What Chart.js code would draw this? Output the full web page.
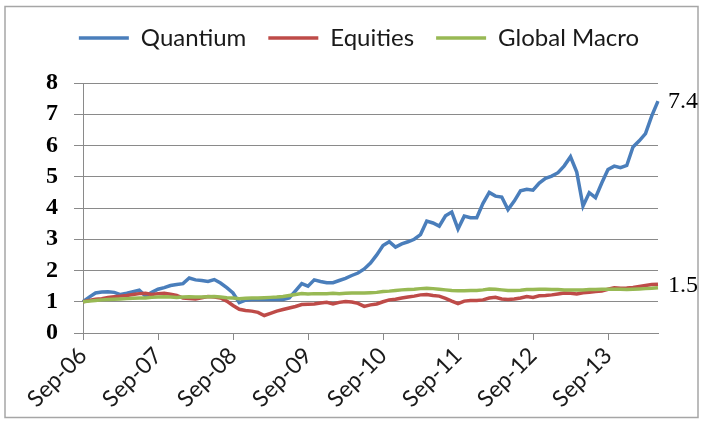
<!DOCTYPE html>
<html>
<head>
<meta charset="utf-8">
<script src="https://cdn.jsdelivr.net/npm/chart.js@4.4.1/dist/chart.umd.min.js"></script>
<style>
  html, body { margin: 0; padding: 0; background: #ffffff; }
  #wrap { position: relative; width: 701px; height: 421px; }
</style>
</head>
<body>
<div id="wrap"><canvas id="c" width="701" height="421"></canvas></div>
<script>
// Monthly categories Sep-06 .. May-14
const months = ['Jan','Feb','Mar','Apr','May','Jun','Jul','Aug','Sep','Oct','Nov','Dec'];
const categories = [];
for (let y = 2006, m = 8; categories.length < 93; m++) {
  if (m === 12) { m = 0; y++; }
  categories.push(months[m] + '-' + String(y % 100).padStart(2, '0'));
}

const quantium = [
  1.00, 1.15, 1.28, 1.31, 1.32, 1.30, 1.23, 1.27, 1.32, 1.37,
  1.18, 1.30, 1.40, 1.45, 1.52, 1.55, 1.58, 1.76, 1.70, 1.68,
  1.65, 1.71, 1.60, 1.45, 1.28, 0.97, 1.05, 1.07, 1.07, 1.07,
  1.07, 1.07, 1.07, 1.12, 1.35, 1.58, 1.50, 1.70, 1.65, 1.61,
  1.61, 1.68, 1.75, 1.84, 1.92, 2.05, 2.24, 2.50, 2.80, 2.92,
  2.75, 2.85, 2.92, 3.00, 3.15, 3.58, 3.52, 3.42, 3.75, 3.87,
  3.33, 3.74, 3.69, 3.69, 4.15, 4.50, 4.38, 4.35, 3.95, 4.22,
  4.55, 4.60, 4.57, 4.80, 4.95, 5.02, 5.13, 5.35, 5.64, 5.15,
  4.06, 4.49, 4.33, 4.80, 5.23, 5.34, 5.29, 5.36, 5.95, 6.15,
  6.38, 6.95, 7.42
];
const equities = [
  1.00, 1.04, 1.08, 1.10, 1.14, 1.16, 1.18, 1.20, 1.23, 1.26,
  1.27, 1.23, 1.26, 1.27, 1.24, 1.20, 1.12, 1.10, 1.09, 1.13,
  1.17, 1.15, 1.12, 1.02, 0.88, 0.76, 0.72, 0.70, 0.66, 0.56,
  0.63, 0.70, 0.75, 0.80, 0.85, 0.91, 0.92, 0.93, 0.96, 0.98,
  0.93, 0.98, 1.01, 0.99, 0.95, 0.85, 0.90, 0.93, 1.00, 1.06,
  1.08, 1.12, 1.15, 1.18, 1.22, 1.23, 1.20, 1.18, 1.11, 1.02,
  0.94, 1.02, 1.04, 1.04, 1.06, 1.12, 1.14, 1.09, 1.07, 1.09,
  1.12, 1.17, 1.14, 1.19, 1.20, 1.22, 1.25, 1.28, 1.27, 1.25,
  1.29, 1.30, 1.33, 1.34, 1.40, 1.45, 1.43, 1.44, 1.46, 1.49,
  1.52, 1.55, 1.56
];
const globalMacro = [
  1.00, 1.02, 1.04, 1.06, 1.07, 1.08, 1.09, 1.10, 1.11, 1.12,
  1.12, 1.14, 1.15, 1.16, 1.15, 1.14, 1.15, 1.16, 1.15, 1.15,
  1.16, 1.17, 1.15, 1.13, 1.12, 1.10, 1.11, 1.12, 1.12, 1.13,
  1.14, 1.15, 1.17, 1.20, 1.23, 1.26, 1.25, 1.26, 1.26, 1.26,
  1.27, 1.26, 1.27, 1.28, 1.28, 1.28, 1.29, 1.30, 1.33, 1.34,
  1.36, 1.38, 1.39, 1.40, 1.42, 1.43, 1.42, 1.40, 1.38, 1.36,
  1.35, 1.35, 1.36, 1.36, 1.38, 1.41, 1.40, 1.38, 1.36, 1.36,
  1.37, 1.39, 1.39, 1.40, 1.40, 1.39, 1.39, 1.38, 1.38, 1.38,
  1.38, 1.39, 1.39, 1.40, 1.40, 1.40, 1.40, 1.39, 1.40, 1.41,
  1.42, 1.43, 1.45
];
const seriesNames = ['Quantium', 'Equities', 'Global Macro'];
const yRange = { min: 0, max: 8, step: 1 };
const endLabels = ['7.4', '1.5'];

const GRID = '#8a8a8a';

const frame = {
  id: 'frame',
  afterInit(chart) {
    const leg = chart.legend;
    if (leg) {
      const orig = leg.fit;
      leg.fit = function () { orig.call(this); this.height += 23; };
    }
  },
  afterLayout(chart) {
    const leg = chart.legend;
    if (leg) { leg.left += 30; leg.right += 30; }
  },
  beforeDraw(chart) {
    const ctx = chart.ctx;
    ctx.save();
    ctx.fillStyle = '#ffffff';
    ctx.fillRect(0, 0, chart.width, chart.height);
    ctx.strokeStyle = '#a6a6a6';
    ctx.lineWidth = 1.5;
    ctx.strokeRect(5, 6.5, 693, 411);
    ctx.restore();
  }
};

const endText = {
  id: 'endText',
  afterDatasetsDraw(chart) {
    const ctx = chart.ctx;
    const xs = chart.scales.x, ys = chart.scales.y;
    const last = categories.length - 1;
    const vals = [quantium[last], equities[last]];
    ctx.save();
    ctx.fillStyle = '#000';
    ctx.font = '24px "Liberation Serif"';
    ctx.textBaseline = 'middle';
    ctx.textAlign = 'left';
    vals.forEach((v, k) => {
      ctx.fillText(endLabels[k], xs.getPixelForValue(last) + 10, ys.getPixelForValue(v) + 1);
    });
    ctx.restore();
  }
};

new Chart(document.getElementById('c'), {
  type: 'line',
  data: {
    labels: categories,
    datasets: [
      { label: seriesNames[0], data: quantium, borderColor: '#4A7EBB', backgroundColor: '#4A7EBB' },
      { label: seriesNames[1], data: equities, borderColor: '#BE4B48', backgroundColor: '#BE4B48' },
      { label: seriesNames[2], data: globalMacro, borderColor: '#98B954', backgroundColor: '#98B954' }
    ].reverse().map(d => Object.assign(d, { borderWidth: 3.5, pointRadius: 0, tension: 0, fill: false }))
  },
  options: {
    responsive: false,
    animation: false,
    devicePixelRatio: 1,
    layout: { padding: { left: 0, right: 43, top: 4, bottom: 0 } },
    plugins: {
      legend: {
        display: true,
        position: 'top',
        reverse: true,
        labels: {
          usePointStyle: true,
          pointStyle: 'line',
          pointStyleWidth: 50,
          boxHeight: 24,
          padding: 22,
          color: '#1a1a1a',
          font: { family: 'Lato', size: 24 }
        }
      },
      tooltip: { enabled: false }
    },
    scales: {
      x: {
        type: 'category',
        offset: false,
        afterFit(s) { s.height = 88; },
        grid: {
          drawOnChartArea: false,
          drawTicks: true,
          tickLength: 7,
          color: (c) => (c.index % 12 === 0 ? GRID : 'rgba(0,0,0,0)'),
          lineWidth: 1
        },
        border: { color: GRID, width: 1 },
        ticks: {
          autoSkip: false,
          minRotation: 45,
          maxRotation: 45,
          padding: 2,
          color: '#1a1a1a',
          font: { family: 'Lato', size: 23 },
          callback: (v, i) => (i % 12 === 0 ? categories[i] : '')
        }
      },
      y: {
        min: yRange.min,
        max: yRange.max,
        afterFit(s) { s.width = 83; },
        grid: { color: GRID, lineWidth: 1, tickLength: 9 },
        border: { color: GRID, width: 1 },
        ticks: {
          stepSize: yRange.step,
          autoSkip: false,
          padding: 16,
          color: '#000',
          font: { family: 'Liberation Serif', size: 24, weight: 'bold' }
        }
      }
    }
  },
  plugins: [frame, endText]
});
</script>
</body>
</html>
